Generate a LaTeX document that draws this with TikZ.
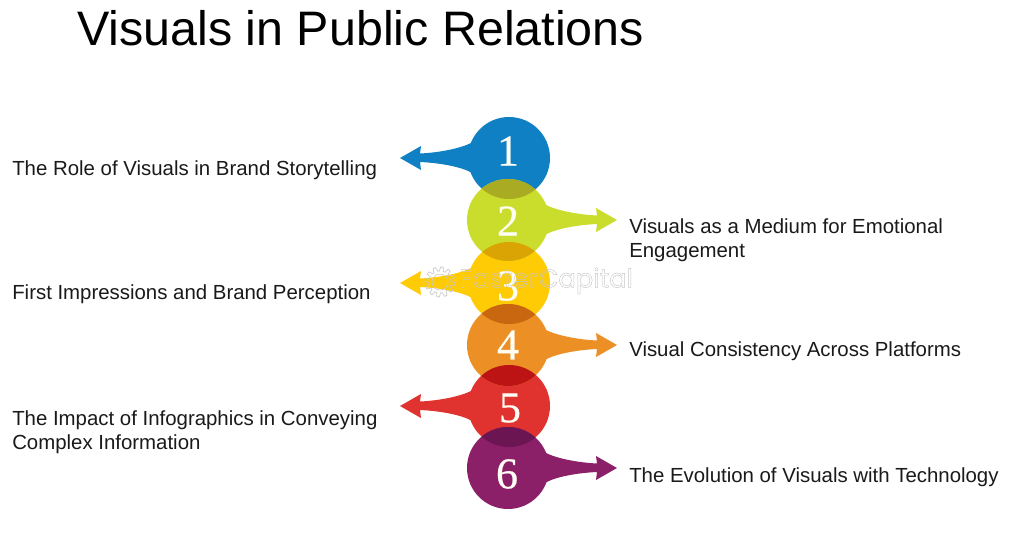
\documentclass[tikz,border=0pt]{standalone}
\usepackage{fontspec}
\setmainfont{Liberation Sans}
\newfontfamily\numfont[FakeBold=0.5]{Liberation Serif}
\newfontfamily\markfont{Poppins}
\definecolor{cOne}{HTML}{0F80C4}
\definecolor{cTwo}{HTML}{CBDD2C}
\definecolor{cThree}{HTML}{FFCB05}
\definecolor{cFour}{HTML}{EC8F24}
\definecolor{cFive}{HTML}{E0322F}
\definecolor{cSix}{HTML}{8B1F68}
\definecolor{lensA}{HTML}{A9AB22}
\definecolor{lensB}{HTML}{D9A404}
\definecolor{lensC}{HTML}{C8670F}
\definecolor{lensD}{HTML}{BC1414}
\definecolor{lensE}{HTML}{6B1553}
\definecolor{ink}{HTML}{1A1A1A}
\definecolor{markgray}{HTML}{C8C8C8}
\tikzset{
  x=0.75pt,y=-0.75pt,
  label text/.style={font=\fontsize{15.3}{17.8}\selectfont,text=ink,align=left,anchor=west,inner sep=0pt},
  num text/.style={font=\numfont\fontsize{33}{33}\selectfont,text=white!96!yellow,inner sep=0pt},
  title text/.style={font=\fontsize{36.3}{40}\selectfont,text=black,anchor=west,inner sep=0pt},
  mark text/.style={font=\markfont\fontsize{19.4}{20}\selectfont,text=markgray,inner sep=0pt},
}
% dart: circle centre, direction (1 right, -1 left), colour
\newcommand{\dartshape}[4]{%
  \begin{scope}[shift={(#1,#2)},xscale=#3]
    \fill[#4] (38,-15) .. controls (48,-10) and (68,-5.5) .. (89,-4.5)
      -- (88,-12) -- (109,0) -- (88,12) -- (89,4)
      .. controls (68,5) and (47,9) .. (37,15) -- cycle;
    \fill[#4] (0,0) circle (41);
  \end{scope}}
\newcommand{\lensshape}[5]{%
  \begin{scope}
    \clip (#1,#2) circle (41);
    \fill[#5] (#3,#4) circle (41);
  \end{scope}}
\begin{document}
\begin{tikzpicture}
\useasboundingbox (0,0) rectangle (1024,560);
\fill[white] (0,0) rectangle (1024,560);
\node[title text] (title) at (77,28.5) {Visuals in Public Relations};

\dartshape{509}{158}{-1}{cOne}
\dartshape{509}{283}{-1}{cThree}
\dartshape{509}{406}{-1}{cFive}
\dartshape{508}{220}{1}{cTwo}
\dartshape{508}{345}{1}{cFour}
\dartshape{508}{468}{1}{cSix}
\lensshape{509}{158}{508}{220}{lensA}
\lensshape{508}{220}{509}{283}{lensB}
\lensshape{509}{283}{508}{345}{lensC}
\lensshape{508}{345}{509}{406}{lensD}
\lensshape{509}{406}{508}{468}{lensE}

\node[num text] (n1) at (508,151) {1};
\node[num text] (n2) at (508,221) {2};
\node[num text] (n3) at (508,286) {3};
\node[num text] (n4) at (508,345) {4};
\node[num text] (n5) at (510,408) {5};
\node[num text] (n6) at (507,474) {6};

\draw[markgray,line width=.5pt] plot[samples=145,domain=0:360,variable=\t]
  ({440+(13+2*sign(sin(12*\t)))*cos(\t)},{282+(13+2*sign(sin(12*\t)))*sin(\t)}) -- cycle;
\draw[markgray,line width=.5pt] (440,282) circle (8);
\node[mark text,anchor=west] (mark) at (459,281)
  {\special{pdf:code 1 Tr 0.35 w}FasterCapital\special{pdf:code 0 Tr}};

\node[label text] (l1) at (12,170) {The Role of Visuals in Brand Storytelling};
\node[label text] (l2) at (629,240.5) {Visuals as a Medium for Emotional\\Engagement};
\node[label text] (l3) at (12,294) {First Impressions and Brand Perception};
\node[label text] (l4) at (629,351) {Visual Consistency Across Platforms};
\node[label text] (l5) at (12,432.5) {The Impact of Infographics in Conveying\\Complex Information};
\node[label text] (l6) at (629,477) {The Evolution of Visuals with Technology};
\end{tikzpicture}
\end{document}
